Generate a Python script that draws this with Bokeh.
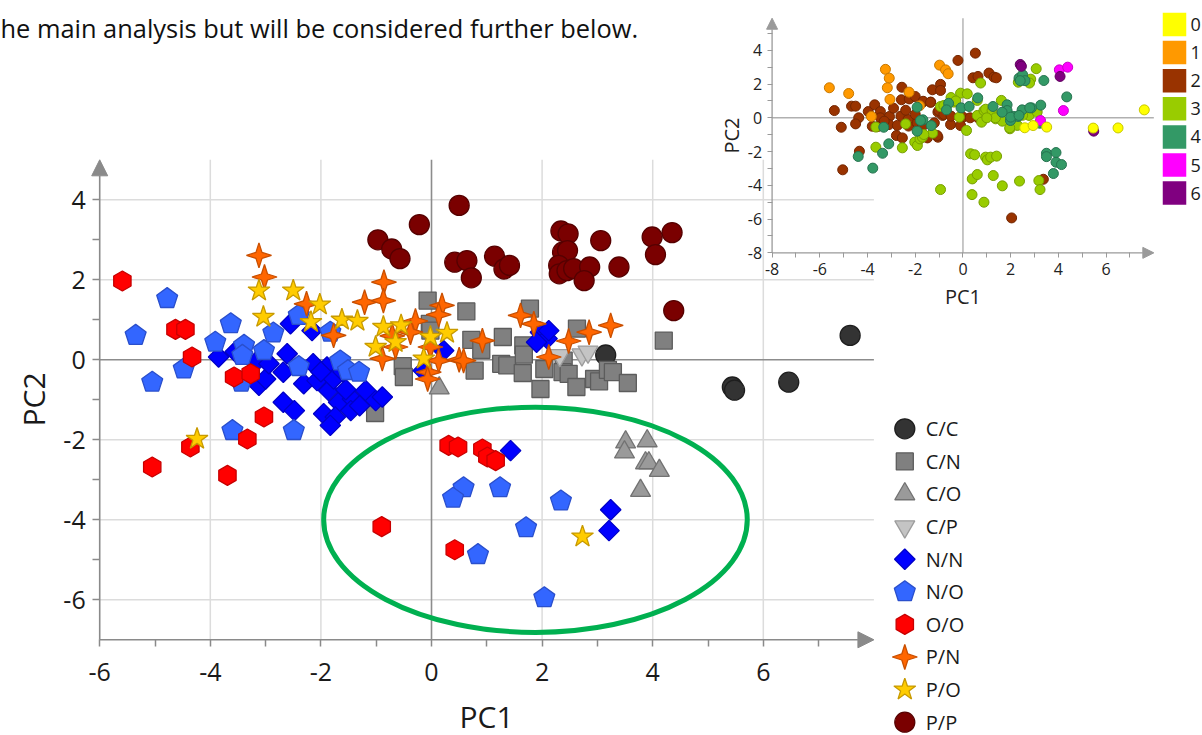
import numpy as np
from bokeh.plotting import figure
from bokeh.models import Range1d, LinearAxis, FixedTicker, Arrow, NormalHead, CustomJS, Label, Grid
from bokeh.core.properties import value
from bokeh.embed import file_html
from bokeh.resources import INLINE

HEADER_TEXT = "he main analysis but will be considered further below."

# ---------------- main chart data (PC1, PC2) ----------------
CATEGORIES = ["C/C", "C/N", "C/O", "C/P", "N/N", "N/O", "O/O", "P/N", "P/O", "P/P"]

CC_X = [3.15, 5.44, 5.48, 6.46, 7.57]
CC_Y = [0.12, -0.68, -0.76, -0.56, 0.61]

CN_X = [-0.07, 0.63, -0.03, -0.02, 1.78, 2.63, 4.2, 0.72, 0.9, 1.29, 0.78, 1.26, 1.37, 1.66, 1.67, 1.65,
        2.04, 1.97, 2.39, 2.37, 2.48, 2.62, 2.94, 3.03, 3.19, 3.28, 3.55, -0.52, -0.5, -1.02]
CN_Y = [1.48, 1.21, 0.9, 0.73, 1.28, 0.78, 0.48, 0.5, 0.25, 0.57, -0.27, -0.1, -0.14, 0.36, 0.13, -0.33,
        -0.23, -0.73, -0.02, -0.31, -0.35, -0.68, -0.48, -0.54, -0.25, -0.31, -0.58, -0.16, -0.43, -1.33]

CO_X = [3.51, 3.49, 3.9, 3.87, 3.93, 4.12, 3.78, 0.14]
CO_Y = [-2.06, -2.31, -2.03, -2.58, -2.58, -2.77, -3.27, -0.71]

CP_X = [2.32, 2.72, 2.83]
CP_Y = [0.11, 0.13, 0.2]

NN_X = [-2.55, -2.16, -3.85, -3.55, -3.12, -3.0, -3.15, -2.94, -2.61, -2.68, -2.31, -2.14, -2.07, -1.89,
        -1.86, -1.77, -1.68, -1.43, -1.19, -1.01, -0.89, -2.68, -2.48, -1.95, -1.74, -1.83, -1.46,
        -1.55, -1.3, -2.0, -1.6, 0.22, -0.15, 1.97, 2.09, 1.9, 2.12, 1.43, 3.24, 3.21]
NN_Y = [0.9, 0.73, 0.07, 0.2, -0.64, -0.48, -0.02, -0.1, 0.15, -0.31, -0.6, -0.1, -0.52, -0.18,
        -0.77, -0.48, -1.06, -0.98, -0.77, -1.02, -0.93, -1.06, -1.27, -1.35, -1.43, -1.64, -1.27,
        -0.75, -1.15, -0.3, -0.3, 0.23, -0.27, 0.69, 0.53, 0.44, 0.73, -2.27, -3.75, -4.27]

NO_X = [-4.78, -5.35, -5.05, -4.48, -3.63, -3.91, -3.39, -3.42, -3.44, -3.03, -2.86, -2.4, -1.83, -2.4,
        -1.65, -1.51, -1.31, -3.6, -2.49, 0.58, 0.39, 1.24, 2.34, 1.71, 0.84, 2.04]
NO_Y = [1.53, 0.61, -0.56, -0.23, 0.9, 0.44, 0.36, 0.11, -0.56, 0.23, 0.67, 1.11, 0.69, -0.17,
        -0.03, -0.27, -0.31, -1.77, -1.77, -3.2, -3.46, -3.2, -3.53, -4.2, -4.87, -5.95]

OO_X = [-5.59, -4.63, -4.45, -4.33, -3.57, -3.27, -3.03, -3.33, -4.36, -5.05, -3.69, -0.9, 0.42,
        0.31, 0.48, 0.92, 1.01, 1.16]
OO_Y = [1.97, 0.76, 0.76, 0.07, -0.43, -0.35, -1.43, -1.98, -2.18, -2.68, -2.89, -4.17, -4.75,
        -2.14, -2.18, -2.23, -2.43, -2.52]

PN_X = [-3.12, -3.02, -2.26, -1.21, -0.86, -0.87, -1.77, -0.29, 0.19, 0.13, -0.38, -0.02, 0.13, -0.05,
        -0.07, -0.89, -0.65, 0.5, 0.58, 0.92, 1.61, 1.85, 2.48, 2.85, 3.24, 2.12, -0.71]
PN_Y = [2.61, 2.07, 1.4, 1.44, 1.94, 1.48, 0.61, 0.97, 1.36, 1.13, 0.69, 0.32, -0.02, -0.31,
        -0.48, 0.03, 0.32, 0.0, -0.02, 0.48, 1.11, 0.9, 0.47, 0.69, 0.86, 0.07, 0.6]

PO_X = [-3.12, -2.5, -3.04, -2.02, -2.18, -1.62, -1.34, -0.87, -0.55, -1.01, -0.65, -0.02, 0.28, -0.14,
        -4.24, 2.73]
PO_Y = [1.73, 1.73, 1.07, 1.38, 0.94, 1.0, 0.97, 0.82, 0.86, 0.32, 0.44, 0.57, 0.67, 0.03,
        -1.98, -4.42]

PP_X = [0.5, -0.22, -0.97, -0.72, -0.57, 0.42, 0.64, 0.72, 1.14, 1.31, 1.41, 2.34, 2.47, 2.37, 2.46,
        2.3, 2.31, 2.45, 2.57, 2.86, 2.76, 3.06, 3.39, 3.99, 4.35, 4.05, 4.38]
PP_Y = [3.86, 3.38, 3.0, 2.77, 2.53, 2.44, 2.48, 2.05, 2.59, 2.27, 2.36, 3.22, 3.15, 2.69, 2.73,
        2.36, 2.15, 2.23, 2.28, 2.32, 1.98, 2.98, 2.32, 3.07, 3.18, 2.63, 1.23]

SERIES = {
    "C/C": (CC_X, CC_Y), "C/N": (CN_X, CN_Y), "C/O": (CO_X, CO_Y), "C/P": (CP_X, CP_Y),
    "N/N": (NN_X, NN_Y), "N/O": (NO_X, NO_Y), "O/O": (OO_X, OO_Y), "P/N": (PN_X, PN_Y),
    "P/O": (PO_X, PO_Y), "P/P": (PP_X, PP_Y),
}

# highlighted region (ellipse) in PC units
ELLIPSE_CX = [1.88]
ELLIPSE_CY = [-4.0]
ELLIPSE_W = [7.66]
ELLIPSE_H = [5.63]

# main axes
MAIN_X_MIN, MAIN_X_MAX = -6, 8
MAIN_Y_MIN, MAIN_Y_MAX = -7, 5
MAIN_X_TICKS = [-6, -4, -2, 0, 2, 4, 6]
MAIN_X_MINOR = [-5, -3, -1, 1, 3, 5, 7]
MAIN_Y_TICKS = [-6, -4, -2, 0, 2, 4]
MAIN_Y_MINOR = [-5, -3, -1, 1, 3]
MAIN_GRID_X = [-4, -2, 2, 4, 6]
MAIN_GRID_Y = [-6, -4, -2, 2, 4]

# ---------------- inset data (clusters 0..6) ----------------
CLUSTERS = ["0", "1", "2", "3", "4", "5", "6"]

I0_X = [2.59, 2.94, 3.51, 5.46, 6.5, 7.6]
I0_Y = [-0.59, -0.46, -0.55, -0.61, -0.6, 0.47]

I1_X = [-5.6, -4.79, -3.25, -3.09, -3.17, -3.06, -3.84, -2.26, -1.82, -0.98, -0.73, -0.62]
I1_Y = [1.78, 1.44, 2.87, 2.35, 1.78, 1.09, 0.08, 1.52, 0.71, 3.12, 2.84, 2.61]

I2_X = [-5.39, -5.1, -4.67, -4.5, -4.37, -4.5, -4.34, -5.04, -3.97, -3.7, -3.46, -3.46, -3.08, -2.91,
        -2.56, -2.58, -2.25, -2.0, -2.79, -2.54, -3.57, -3.1, -2.28, -1.93, -1.49, -1.05, -1.05, -0.85,
        -0.52, -0.21, 0.52, 0.42, 0.63, 1.09, 1.3, 1.4, 0.0, 0.64, 2.04, 3.37, -1.68, -1.35, -1.28,
        -0.94, -0.94, -1.67, -1.36, -1.01, -0.8, -0.1, -1.08, -2.6, -2.3, -2.0, -2.75, -3.3, -2.4,
        -1.7, -1.2, -0.5, 0.3, -3.8]
I2_Y = [0.43, -0.56, 0.69, 0.69, 0.0, -0.36, -1.98, -3.08, 0.37, 0.77, 0.37, 0.0, 0.08, 0.57,
        1.81, 1.07, 1.12, 1.26, -1.05, -1.19, -0.52, -0.4, -0.49, -0.28, -1.19, -1.15, 0.34, 0.14,
        -0.4, 3.4, 3.83, 2.37, 2.45, 2.65, 2.41, 2.37, 0.04, 0.0, -5.93, -3.64, 0.93, 0.93, 1.66,
        1.98, 1.62, 0.98, 0.92, 0.43, 0.2, -0.46, -1.05, 0.1, -0.1, 0.2, -0.45, -0.2, 0.45,
        -0.5, -0.3, 0.1, 0.0, -0.5]

I3_X = [-3.65, -3.65, -2.54, -2.4, -2.02, -1.91, -1.8, -1.7, -1.27, -0.94, -0.38, -0.1, 0.18, -0.15,
        0.15, 0.74, 0.6, 0.6, 0.88, 0.95, 0.78, 1.37, 1.65, 1.61, 1.97, 2.07, 2.28, 2.77, 3.11, 3.07,
        2.84, 2.79, 2.32, -0.94, 0.32, 0.49, 0.95, 1.02, 1.16, 1.41, 0.39, 0.6, 1.27, 1.65, 2.37,
        3.18, 3.23, 0.38, 0.88, -0.5, -0.3, 1.22, 1.36, 1.96, -1.64, -0.8, 2.5, 1.0]
I3_Y = [-0.55, -1.74, -1.78, -0.36, -1.44, -1.64, -1.25, -1.15, -0.91, 0.67, 0.93, 1.46, 1.42, 0.04,
        -0.75, 2.06, 1.03, 0.14, 0.43, 0.51, -0.26, -0.06, -0.2, 1.03, -0.65, 0.04, -0.45, 0.14, 0.34,
        2.91, 2.29, 2.06, 2.11, -4.25, -2.13, -2.19, -2.33, -2.49, -2.33, -2.27, -3.62, -3.36, -3.42,
        -4.03, -3.75, -3.72, -4.25, -4.55, -5.0, 1.2, 1.0, 0.43, 0.0, -0.59, -0.99, 0.73, 0.15, 0.0]

I4_X = [3.39, 4.35, 3.26, 2.87, 3.22, 3.5, 3.9, 3.5, 3.9, 4.13, 3.79, 2.35, 2.5, 2.6, 2.4, 0.62,
        1.26, 1.85, 1.85, 2.13, 2.31, 2.48, 2.8, 1.64, 1.99, -0.08, 0.26, -0.6, -0.69, -1.68, -1.33,
        -1.92, -3.32, -3.11, -3.37, -4.39, -3.78, -1.92, -1.78, 2.0, 2.35]
I4_Y = [2.21, 1.24, 0.75, 0.59, -0.32, -2.1, -2.06, -2.3, -2.63, -2.77, -3.3, 2.35, 2.55, 2.2, 2.2,
        1.18, 0.67, 0.77, 0.43, 0.08, 0.08, 0.47, 0.59, 0.33, -0.16, 0.59, 0.67, 0.86, 0.47, -0.12,
        -0.46, -0.79, -0.56, -1.54, -2.1, -2.29, -2.98, 0.63, -0.16, 0.04, 0.14]

I5_X = [4.04, 4.39, 4.21, 3.25]
I5_Y = [2.84, 3.0, 0.43, -0.16]

I6_X = [2.4, 2.45, 4.07, 5.48]
I6_Y = [3.16, 3.05, 2.45, -0.79]

INSET = {"0": (I0_X, I0_Y), "1": (I1_X, I1_Y), "2": (I2_X, I2_Y), "3": (I3_X, I3_Y),
         "4": (I4_X, I4_Y), "5": (I5_X, I5_Y), "6": (I6_X, I6_Y)}

INSET_X_MIN, INSET_X_MAX = -8, 8
INSET_Y_MIN, INSET_Y_MAX = -8, 5.9
INSET_X_TICKS = [-8, -6, -4, -2, 0, 2, 4, 6]
INSET_X_MINOR = [-7, -5, -3, -1, 1, 3, 5, 7]
INSET_Y_TICKS = [-8, -6, -4, -2, 0, 2, 4]
INSET_Y_MINOR = [-7, -5, -3, -1, 1, 3, 5]

# ---------------- styles ----------------
STYLE = {
    "C/C": dict(marker="circle", size=20, angle=0.0, fill="#333333", line="#1e1e1e"),
    "C/N": dict(marker="square", size=17, angle=0.0, fill="#808080", line="#5c5c5c"),
    "C/O": dict(marker="triangle", size=20, angle=0.0, fill="#9a9a9a", line="#727272"),
    "C/P": dict(marker="inverted_triangle", size=20, angle=0.0, fill="#c4c4c4", line="#9c9c9c"),
    "N/N": dict(marker="square", size=14.5, angle=np.pi / 4, fill="#0000ff", line="#0000c8"),
    "N/O": dict(marker="@pent", size=22, angle=0.0, fill="#3366ff", line="#2a4fcc"),
    "O/O": dict(marker="hex", size=20, angle=np.pi / 2, fill="#ff0000", line="#c80000"),
    "P/N": dict(marker="@star4", size=25, angle=0.0, fill="#ff6600", line="#c94f00"),
    "P/O": dict(marker="star", size=23, angle=0.0, fill="#ffcc00", line="#c89a00"),
    "P/P": dict(marker="circle", size=20, angle=0.0, fill="#7a0000", line="#560000"),
}
FALLBACK = {"@pent": ("hex", 0.0), "@star4": ("star", 0.0)}

INSET_COLORS = {"0": ("#ffff00", "#c8c800"), "1": ("#ff9900", "#c87800"), "2": ("#993300", "#732600"),
                "3": ("#99cc00", "#779f00"), "4": ("#339966", "#267350"), "5": ("#ff00ff", "#c800c8"),
                "6": ("#800080", "#600060")}
INSET_ORDER = ["2", "1", "3", "4", "5", "6", "0"]

FONT = "Open Sans"
AXIS_GRAY = "#8a8a8a"

JS_HEAD = """
var A = arguments; var ctx = null, i = 0, r = 0, vis = null;
for (var k = 0; k < A.length; k++) { var a = A[k]; if (a && a.ctx && a.visuals) { ctx = a.ctx; i = a.i; r = a.r; vis = a.visuals; break; } }
if (ctx === null) { for (var k = 0; k < A.length; k++) { var a = A[k]; if (a && typeof a.moveTo === 'function') { ctx = a; i = A[k+1]; r = A[k+2]; vis = A[k+3]; break; } } }
function draw(ctx, i, r, vis) {
"""
JS_TAIL = """
  ctx.closePath();
  if (vis.fill && vis.fill.apply) vis.fill.apply(ctx, i);
  if (vis.hatch && vis.hatch.apply) vis.hatch.apply(ctx, i);
  if (vis.line && vis.line.apply) vis.line.apply(ctx, i);
}
if (ctx !== null) { draw(ctx, i, r, vis); } else { return draw; }
"""
PENT_PATH = """
  for (var k = 0; k < 5; k++) {
    var t = -Math.PI/2 + k*2*Math.PI/5;
    var px = r*Math.cos(t), py = r*Math.sin(t);
    if (k === 0) ctx.moveTo(px, py); else ctx.lineTo(px, py);
  }
"""
STAR4_PATH = """
  var ri = 0.34*r;
  for (var k = 0; k < 8; k++) {
    var t = -Math.PI/2 + k*Math.PI/4;
    var rr = (k % 2 === 0) ? r : ri;
    var px = rr*Math.cos(t), py = rr*Math.sin(t);
    if (k === 0) ctx.moveTo(px, py); else ctx.lineTo(px, py);
  }
"""
DEFS = {"@pent": CustomJS(code=JS_HEAD + PENT_PATH + JS_TAIL),
        "@star4": CustomJS(code=JS_HEAD + STAR4_PATH + JS_TAIL)}


def hyphen_labels(ticks):
    return {t: str(t) for t in ticks}


W, H = 1202, 735

p = figure(width=W, height=H, x_range=Range1d(-7.794, 13.942), y_range=Range1d(-9.3925, 8.9825),
           toolbar_location=None, output_backend="svg", min_border=0,
           x_axis_location=None, y_axis_location=None, outline_line_color=None,
           background_fill_color="white", border_fill_color="white")
p.center = [c for c in p.center if not isinstance(c, Grid)]

p.extra_x_ranges = {"ix": Range1d(-40.34, 10.04), "lx": Range1d(-9.043, 2.977), "ilx": Range1d(-11.74, 0.28)}
p.extra_y_ranges = {"iy": Range1d(-36.59, 6.949), "ly": Range1d(9.408, -13.138), "ily": Range1d(25.30, -0.854)}


def add_scatter(xs, ys, st, **kw):
    m = st["marker"]
    if m.startswith("@"):
        try:
            return p.scatter(xs, ys, marker=m, defs={m: DEFS[m]}, size=st["size"], angle=st["angle"],
                             fill_color=st["fill"], line_color=st["line"], line_width=1.3, **kw)
        except Exception:
            m2, ang = FALLBACK[m]
            return p.scatter(xs, ys, marker=m2, size=st["size"] * 0.9, angle=ang,
                             fill_color=st["fill"], line_color=st["line"], line_width=1.3, **kw)
    return p.scatter(xs, ys, marker=m, size=st["size"], angle=st["angle"],
                     fill_color=st["fill"], line_color=st["line"], line_width=1.3, **kw)


# ---- main grid ----
p.segment(x0=MAIN_GRID_X, y0=[MAIN_Y_MIN] * len(MAIN_GRID_X), x1=MAIN_GRID_X, y1=[MAIN_Y_MAX] * len(MAIN_GRID_X),
          line_color="#dcdcdc", line_width=1.5)
p.segment(x0=[MAIN_X_MIN] * len(MAIN_GRID_Y), y0=MAIN_GRID_Y, x1=[MAIN_X_MAX] * len(MAIN_GRID_Y), y1=MAIN_GRID_Y,
          line_color="#dcdcdc", line_width=1.5)
p.segment(x0=[0, MAIN_X_MIN], y0=[MAIN_Y_MIN, 0], x1=[0, MAIN_X_MAX], y1=[MAIN_Y_MAX, 0],
          line_color="#8c8c8c", line_width=1.6)

# ---- main axes ----
xax = LinearAxis(ticker=FixedTicker(ticks=MAIN_X_TICKS, minor_ticks=MAIN_X_MINOR),
                 major_label_overrides=hyphen_labels(MAIN_X_TICKS),
                 fixed_location=MAIN_Y_MIN, bounds=(MAIN_X_MIN, MAIN_X_MAX),
                 axis_label="PC1", axis_label_text_font=FONT, axis_label_text_font_size="30px",
                 axis_label_text_font_style="normal", axis_label_text_color="#1a1a1a", axis_label_standoff=12,
                 major_label_text_font=FONT, major_label_text_font_size="25px", major_label_text_color="#1a1a1a",
                 major_label_standoff=16, axis_line_color=None,
                 major_tick_line_color=AXIS_GRAY, minor_tick_line_color=AXIS_GRAY,
                 major_tick_line_width=1.5, minor_tick_line_width=1.5,
                 major_tick_in=0, major_tick_out=7, minor_tick_in=0, minor_tick_out=7)
p.add_layout(xax, "below")
yax = LinearAxis(ticker=FixedTicker(ticks=MAIN_Y_TICKS, minor_ticks=MAIN_Y_MINOR),
                 major_label_overrides=hyphen_labels(MAIN_Y_TICKS),
                 fixed_location=MAIN_X_MIN, bounds=(MAIN_Y_MIN, MAIN_Y_MAX),
                 axis_label="PC2", axis_label_text_font=FONT, axis_label_text_font_size="30px",
                 axis_label_text_font_style="normal", axis_label_text_color="#1a1a1a", axis_label_standoff=6,
                 major_label_text_font=FONT, major_label_text_font_size="25px", major_label_text_color="#1a1a1a",
                 major_label_standoff=7, axis_line_color=None,
                 major_tick_line_color=AXIS_GRAY, minor_tick_line_color=AXIS_GRAY,
                 major_tick_line_width=1.5, minor_tick_line_width=1.5,
                 major_tick_in=0, major_tick_out=7, minor_tick_in=0, minor_tick_out=7)
p.add_layout(yax, "left")
p.add_layout(Arrow(end=NormalHead(size=16, fill_color=AXIS_GRAY, line_color=AXIS_GRAY),
                   x_start=MAIN_X_MIN, y_start=MAIN_Y_MIN, x_end=MAIN_X_MAX, y_end=MAIN_Y_MIN,
                   line_color=AXIS_GRAY, line_width=1.6))
p.add_layout(Arrow(end=NormalHead(size=16, fill_color=AXIS_GRAY, line_color=AXIS_GRAY),
                   x_start=MAIN_X_MIN, y_start=MAIN_Y_MIN, x_end=MAIN_X_MIN, y_end=MAIN_Y_MAX,
                   line_color=AXIS_GRAY, line_width=1.6))

# ---- inset axes ----
IN_GRAY = "#9a9a9a"
p.segment(x0=[0, INSET_X_MIN], y0=[INSET_Y_MIN, 0], x1=[0, INSET_X_MAX], y1=[INSET_Y_MAX, 0],
          line_color="#b0b0b0", line_width=1.4, x_range_name="ix", y_range_name="iy")
ixax = LinearAxis(x_range_name="ix", y_range_name="iy",
                  ticker=FixedTicker(ticks=INSET_X_TICKS, minor_ticks=INSET_X_MINOR),
                  major_label_overrides=hyphen_labels(INSET_X_TICKS),
                  fixed_location=INSET_Y_MIN, bounds=(INSET_X_MIN, INSET_X_MAX),
                  axis_label="PC1", axis_label_text_font=FONT, axis_label_text_font_size="20px",
                  axis_label_text_font_style="normal", axis_label_text_color="#222222", axis_label_standoff=5,
                  major_label_text_font=FONT, major_label_text_font_size="16px", major_label_text_color="#222222",
                  major_label_standoff=5, axis_line_color=None,
                  major_tick_line_color=IN_GRAY, minor_tick_line_color=IN_GRAY,
                  major_tick_in=0, major_tick_out=5, minor_tick_in=0, minor_tick_out=5)
p.add_layout(ixax, "below")
iyax = LinearAxis(x_range_name="ix", y_range_name="iy",
                  ticker=FixedTicker(ticks=INSET_Y_TICKS, minor_ticks=INSET_Y_MINOR),
                  major_label_overrides=hyphen_labels(INSET_Y_TICKS),
                  fixed_location=INSET_X_MIN, bounds=(INSET_Y_MIN, INSET_Y_MAX),
                  axis_label="PC2", axis_label_text_font=FONT, axis_label_text_font_size="20px",
                  axis_label_text_font_style="normal", axis_label_text_color="#222222", axis_label_standoff=0,
                  major_label_text_font=FONT, major_label_text_font_size="16px", major_label_text_color="#222222",
                  major_label_standoff=5, axis_line_color=None,
                  major_tick_line_color=IN_GRAY, minor_tick_line_color=IN_GRAY,
                  major_tick_in=0, major_tick_out=5, minor_tick_in=0, minor_tick_out=5)
p.add_layout(iyax, "left")
p.add_layout(Arrow(end=NormalHead(size=11, fill_color=IN_GRAY, line_color=IN_GRAY),
                   x_start=INSET_X_MIN, y_start=INSET_Y_MIN, x_end=INSET_X_MAX, y_end=INSET_Y_MIN,
                   line_color=IN_GRAY, line_width=1.3, x_range_name="ix", y_range_name="iy"))
p.add_layout(Arrow(end=NormalHead(size=11, fill_color=IN_GRAY, line_color=IN_GRAY),
                   x_start=INSET_X_MIN, y_start=INSET_Y_MIN, x_end=INSET_X_MIN, y_end=INSET_Y_MAX,
                   line_color=IN_GRAY, line_width=1.3, x_range_name="ix", y_range_name="iy"))

# ---- main scatter ----
for cat in CATEGORIES:
    xs, ys = SERIES[cat]
    add_scatter(xs, ys, STYLE[cat])

# ellipse highlight
p.ellipse(x=ELLIPSE_CX, y=ELLIPSE_CY, width=ELLIPSE_W, height=ELLIPSE_H,
          fill_color=None, line_color="#00b050", line_width=5)

# ---- main legend ----
for idx, cat in enumerate(CATEGORIES):
    add_scatter([0], [idx], STYLE[cat], x_range_name="lx", y_range_name="ly")
p.text(x=[0] * len(CATEGORIES), y=list(range(len(CATEGORIES))), text=CATEGORIES,
       x_offset=21, text_baseline="middle", text_align="left",
       text_font=value(FONT), text_font_size="20px", text_color="#1a1a1a",
       x_range_name="lx", y_range_name="ly")

# ---- inset scatter ----
for c in INSET_ORDER:
    xs, ys = INSET[c]
    fc, lc = INSET_COLORS[c]
    p.scatter(xs, ys, marker="circle", size=10, fill_color=fc, line_color=lc, line_width=1,
              x_range_name="ix", y_range_name="iy")

# ---- inset legend ----
p.scatter(x=[0] * len(CLUSTERS), y=list(range(len(CLUSTERS))), marker="square", size=23.5,
          fill_color=[INSET_COLORS[c][0] for c in CLUSTERS], line_color=None,
          x_range_name="ilx", y_range_name="ily")
p.text(x=[0] * len(CLUSTERS), y=list(range(len(CLUSTERS))), text=CLUSTERS,
       x_offset=16, text_baseline="middle", text_align="left",
       text_font=value(FONT), text_font_size="18px", text_color="#1a1a1a",
       x_range_name="ilx", y_range_name="ily")

# ---- header text ----
p.add_layout(Label(x=0, y=H - 27, x_units="screen", y_units="screen", text=HEADER_TEXT,
                   text_font="Open Sans", text_font_size="25.4px", text_color="#111111",
                   text_baseline="alphabetic"))

open("out.html", "w").write(file_html(p, INLINE))
